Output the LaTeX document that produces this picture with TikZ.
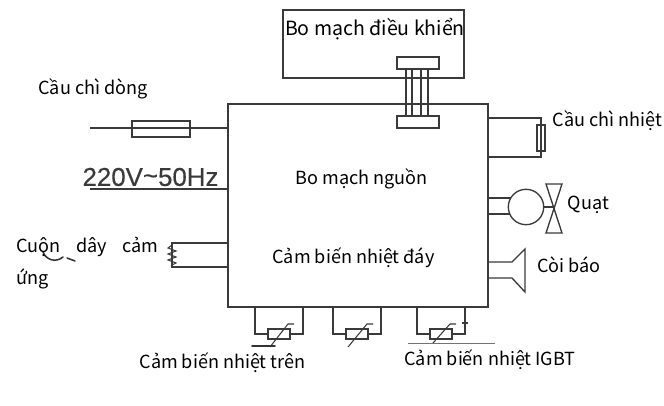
\documentclass[tikz,border=0pt]{standalone}
\usepackage{fontspec}
\setmainfont{Noto Sans CJK SC}
\newfontfamily\labelfont[FakeBold=0.35]{Liberation Sans}
\usetikzlibrary{positioning}
\definecolor{wirecolor}{HTML}{3A3A3A}
\tikzset{
  wire/.style={line width=0.95pt, draw=wirecolor},
  thinwire/.style={line width=0.75pt, draw=wirecolor},
  caption/.style={font=\fontsize{12.85}{22.7}\selectfont, text=black, inner sep=0pt, yshift=-1.2pt},
  strayink/.style={line width=1.1pt, draw=black!80, line cap=round}
}
\begin{document}
\begin{tikzpicture}[x=0.025cm, y=-0.025cm]
  \useasboundingbox (0, 0) rectangle (664, 406);

  % === Bo mach ===
  \draw[wire] (228, 104) rectangle (488, 307);
  \draw[wire] (283, 10) rectangle (464, 78);

  % Dau noi giua hai bo mach
  \draw[wire, fill=white] (397, 57) rectangle (439, 69);
  \draw[wire, fill=white] (397, 116) rectangle (439, 128);
  \foreach \xpin in {406, 412, 421, 428} {
    \draw[thinwire] (\xpin, 69) -- (\xpin, 116);
  }

  % === Nguon vao ===
  \draw[wire] (90, 128) -- (228, 128);
  \draw[wire] (132, 121) rectangle (190, 137);
  \draw[wire] (90, 189) -- (228, 189);
  \node[font=\labelfont\fontsize{18.4}{20}\selectfont, text=wirecolor, inner sep=0pt] (nguon) at (150.5, 177) {220V\raisebox{1pt}{\~{}}50Hz};

  % === Cuon day ===
  \draw[wire] (228, 243) -- (172, 243) -- (172, 267) -- (228, 267);
  \draw[thinwire] (172, 245) -- (168, 248) -- (176, 251) -- (168, 254) -- (176, 257) -- (168, 260) -- (176, 263) -- (172, 265);

  % === Cau chi nhiet ===
  \draw[wire] (488, 118) -- (541, 118) -- (541, 157) -- (488, 157);
  \draw[thinwire, fill=white] (537, 125) rectangle (545, 151);
  \draw[thinwire] (541, 125) -- (541, 151);

  % === Quat ===
  \draw[wire] (488, 198) -- (512, 198);
  \draw[wire] (488, 214) -- (512, 214);
  \draw[wire, fill=white] (526, 207) circle (17.7);
  \draw[thinwire] (543.7, 207) -- (554, 207);
  \draw[wire] (546, 184) -- (562, 184) -- (546, 233) -- (562, 233) -- cycle;

  % === Coi bao ===
  \draw[wire] (488, 262) -- (512, 262) -- (525, 249) -- (525, 292) -- (512, 278) -- (488, 278);

  % === Cam bien nhiet (ba cai, cach deu) ===
  \foreach \xleft/\xrect/\xlow/\xhigh/\ylow in {255/268/270/288/347, 333/346/348/367/347, 417/430/433/450/343} {
    \draw[wire] (\xleft, 307) -- (\xleft, 334) -- ({\xleft+48}, 334) -- ({\xleft+48}, 307);
    \draw[wire, fill=white] (\xrect, 329) rectangle ({\xrect+22}, 339);
    \draw[thinwire] (\xlow, \ylow) -- (\xhigh, 324) -- ({\xhigh+6}, 324);
  }
  \draw[thinwire] (462, 323) -- (468, 323);

  % Vet muc con sot lai tren anh
  \draw[strayink] (43, 252) .. controls (46, 260) and (56, 263) .. (63, 257);
  \draw[strayink] (67, 258) -- (75, 261);
  \draw[strayink] (252, 346) -- (275, 346);
  \draw[line width=0.5pt, draw=black!55] (408, 343) -- (495, 343);

  % === Chu thich ===
  \node[caption, font=\fontsize{13.9}{22.7}\selectfont] (dieukhien) at (375, 27) {Bo mạch điều khiển};
  \node[caption] (chidong) at (93, 87) {Cầu chì dòng};
  \node[caption] (chinhiet) at (607.5, 119) {Cầu chì nhiệt};
  \node[caption] (bonguon) at (361.5, 177) {Bo mạch nguồn};
  \node[caption] (camday) at (353.5, 256) {Cảm biến nhiệt đáy};
  \node[caption] (quat) at (588.5, 203) {Quạt};
  \node[caption] (coibao) at (569, 263) {Còi báo};
  \node[caption] (camtren) at (222.5, 361) {Cảm biến nhiệt trên};
  \node[caption] (camigbt) at (490, 358) {Cảm biến nhiệt IGBT};
  \node[caption, anchor=north west, text width=3.55cm, align=left] (cuonday) at (16, 235) {Cuộn\hfill dây\hfill cảm\\ ứng};
\end{tikzpicture}
\end{document}
